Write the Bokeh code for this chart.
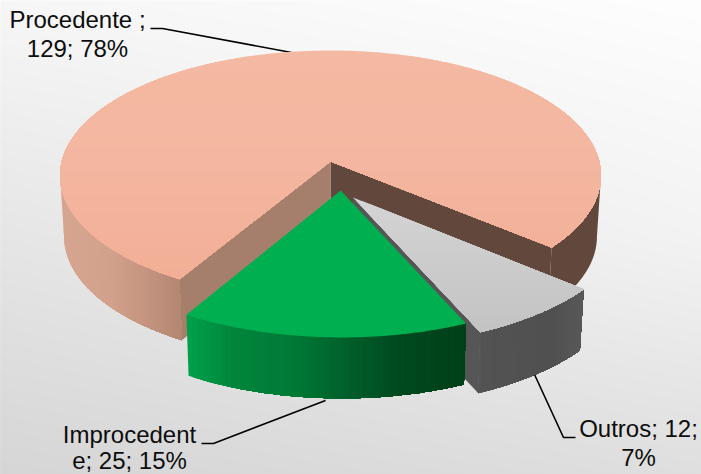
import numpy as np
from bokeh.core.properties import value
from bokeh.embed import file_html
from bokeh.models import Range1d
from bokeh.plotting import figure
from bokeh.resources import INLINE

# Chart data
categories = ["Procedente", "Outros", "Improcedente"]
counts = [129, 12, 25]
label_lines = [["Procedente ;", "129; 78%"], ["Outros; 12;", "7%"], ["Improcedent", "e; 25; 15%"]]

# Pie geometry: the disc is a unit circle seen through a projective tilt
W, H = 701, 474
CX, CY, RX, RY = 330.0, 175.0, 270.5, 125.0
TILT = -0.112
DEPTH = 61.0
BASE_SCALE = 0.985
START_DEG = 120.5
# Angle at which the projected rim reaches its left and right extremes
SIDE_DEG = float(np.degrees(np.arcsin(-TILT)))
explode = {"Procedente": (0.0, 0.0), "Outros": (0.081, 0.282), "Improcedente": (0.037, 0.229)}


def project(wx, wy):
    wx, wy = np.asarray(wx, float), np.asarray(wy, float)
    d = 1 + TILT * wy
    return (CX + RX * wx * np.sqrt(1 - TILT ** 2) / d,
            CY + RY * (wy + TILT) / d)


def lower(x, y):
    return CX + (np.asarray(x) - CX) * BASE_SCALE, np.asarray(y) + DEPTH


def rim(a0, a1, off, n=160):
    a = np.radians(np.linspace(a0, a1, n))
    return project(off[0] + np.cos(a), off[1] + np.sin(a))


def clip(px, py, axis, limit):
    """Keep the part of a polygon at or beyond `limit` along one axis."""
    pts = list(zip(px, py))
    out = []
    for i, cur in enumerate(pts):
        prev = pts[i - 1]
        c_in, p_in = cur[axis] >= limit, prev[axis] >= limit
        if c_in != p_in:
            t = (limit - prev[axis]) / (cur[axis] - prev[axis])
            out.append((prev[0] + t * (cur[0] - prev[0]), prev[1] + t * (cur[1] - prev[1])))
        if c_in:
            out.append(cur)
    return [q[0] for q in out], [q[1] for q in out]


def hex_rgb(c):
    return np.array([int(c[i:i + 2], 16) for i in (1, 3, 5)], float)


def shaded(fig, px, py, axis, stops, steps=40):
    """Fill a polygon with a stepped gradient, painting nested clipped copies."""
    pos = [s[0] for s in stops]
    rgb = np.array([hex_rgb(s[1]) for s in stops])
    grid = np.linspace(pos[0], pos[-1], steps)
    for k, g in enumerate(grid):
        col = [int(round(np.interp(g, pos, rgb[:, j]))) for j in range(3)]
        qx, qy = (list(px), list(py)) if k == 0 else clip(px, py, axis, g)
        if len(qx) >= 3:
            fig.patch(qx, qy, fill_color="#%02x%02x%02x" % tuple(col), line_color=None)


def wall(a0, a1, off):
    x, y = rim(a0, a1, off)
    bx, by = lower(x, y)
    return list(x) + list(bx[::-1]), list(y) + list(by[::-1])


def radial_face(angle, off):
    ax, ay = project(off[0], off[1])
    ex, ey = rim(angle, angle, off, n=1)
    bax, bay = lower(ax, ay)
    bex, bey = lower(ex[0], ey[0])
    return [float(ax), float(ex[0]), float(bex), float(bax)], [float(ay), float(ey[0]), float(bey), float(bay)]


p = figure(width=W, height=H, x_range=Range1d(0, W), y_range=Range1d(H, 0),
           output_backend="svg", toolbar_location=None, min_border=0, outline_line_color=None,
           background_fill_color="#fdfdfd", border_fill_color="#e8e8e8")
p.axis.visible = False
p.grid.visible = False

# Page backdrop: nested iso-grey polygons running from light at the top to grey at the bottom
rows_y = [0, 237, 474]
left_grey = [246, 229, 213]
right_grey = [253, 242, 222]
columns = np.linspace(0, W, 29)
for level in range(253, 212, -1):
    edge = []
    for xc in columns:
        f = xc / W
        col_grey = (1 - f) * np.array(left_grey) + f * np.array(right_grey)
        edge.append(float(np.interp(level, col_grey[::-1], np.array(rows_y, float)[::-1])))
    bx = list(columns) + [W, 0]
    by = edge + [H, H]
    p.patch(bx, by, fill_color="#%02x%02x%02x" % (level, level, level), line_color=None)

# Leader lines
leaders = [([150, 162, 291], [28, 28, 52]), ([575, 563, 534], [437, 437, 374]), ([201, 213, 325], [443, 443, 400])]
for lx, ly in leaders:
    p.line(lx, ly, line_color="#000000", line_width=1.6)

# Slice angles follow from the counts, clockwise on screen
total = sum(counts)
spans = {}
a = START_DEG
for name, n in zip(categories, counts):
    spans[name] = (a, a + n / total * 360)
    a += n / total * 360

# Large slice: inner faces, outer wall and top
a0, a1 = spans["Procedente"]
off = explode["Procedente"]
for angle, col in ((a1, "#62483c"), (a0, "#a67e6c")):
    fx, fy = radial_face(angle, off)
    p.patch(fx, fy, fill_color=col, line_color=None)
wx, wy = wall(a0, 180 - SIDE_DEG, off)
shaded(p, wx, wy, 0, [(60, "#d6a590"), (105, "#d2a28d"), (140, "#c69681"), (185, "#b08470")])
wx, wy = wall(360 + SIDE_DEG, a1, off)
p.patch(wx, wy, fill_color="#62483c", line_color=None)
tx, ty = rim(a0, a1, off, n=400)
ax_, ay_ = project(*off)
shaded(p, list(tx) + [float(ax_)], list(ty) + [float(ay_)], 1,
       [(50, "#f4b9a2"), (160, "#f4b6a0"), (285, "#f2ae95")])

# Small exploded slice
a0, a1 = spans["Outros"]
off = explode["Outros"]
fx, fy = radial_face(a1, off)
p.patch(fx, fy, fill_color="#565656", line_color=None)
wx, wy = wall(a0, a1, off)
shaded(p, wx, wy, 0, [(465, "#5e5e5e"), (480, "#535353"), (550, "#505050"), (585, "#5a5a5a")])
tx, ty = rim(a0, a1, off)
ax_, ay_ = project(*off)
shaded(p, list(tx) + [float(ax_)], list(ty) + [float(ay_)], 1, [(197, "#d4d4d4"), (335, "#c2c2c2")])

# Green exploded slice
a0, a1 = spans["Improcedente"]
off = explode["Improcedente"]
wx, wy = wall(a0, a1, off)
shaded(p, wx, wy, 0, [(187, "#00a04a"), (230, "#00863c"), (290, "#007a35"), (345, "#005f2a"),
                      (400, "#00481e"), (468, "#003f19")], steps=60)
tx, ty = rim(a0, a1, off)
ax_, ay_ = project(*off)
p.patch(list(tx) + [float(ax_)], list(ty) + [float(ay_)], fill_color="#00af50", line_color=None)

# Data labels
TEXT_SHIFT = 9
anchors = {"Procedente": (77, 28, 57), "Outros": (638, 437, 466), "Improcedente": (129, 443, 469)}
for name, lines in zip(categories, label_lines):
    cx, b1, b2 = anchors[name]
    p.text(x=[cx, cx], y=[b1 - TEXT_SHIFT, b2 - TEXT_SHIFT], text=lines, text_align="center",
           text_baseline="alphabetic", text_font=value("Liberation Sans"),
           text_font_size="24px", text_color="#0d0d0d")

open("out.html", "w").write(file_html(p, INLINE))
